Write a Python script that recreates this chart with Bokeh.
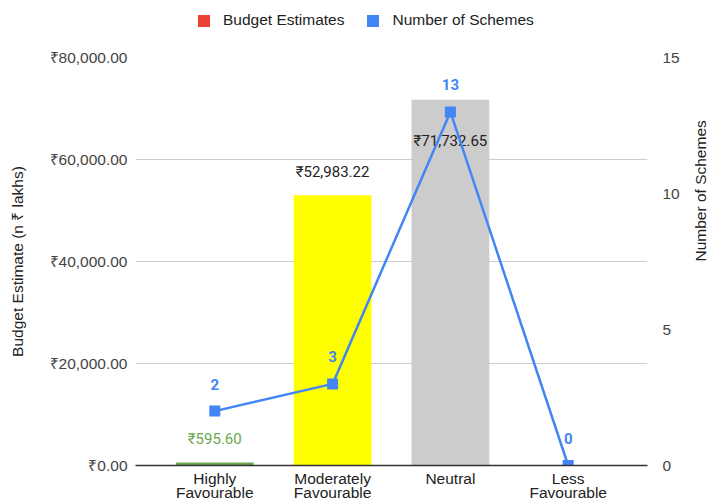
import math
from bokeh.plotting import figure
from bokeh.layouts import column
from bokeh.models import (ColumnDataSource, Range1d, LinearAxis,
                          FixedTicker, Legend, LegendItem)
from bokeh.core.properties import value
from bokeh.embed import file_html
from bokeh.resources import INLINE

# ---- data ----
categories = ["Highly Favourable", "Moderately Favourable", "Neutral", "Less Favourable"]
budget = [595.60, 52983.22, 71732.65, 0.0]
schemes = [2, 3, 13, 0]
bar_colors = ["#6AA84F", "#FFFF00", "#CCCCCC", "#CCCCCC"]
budget_ticks = [0, 20000, 40000, 60000, 80000]
scheme_ticks = [0, 5, 10, 15]
series_names = ["Budget Estimates", "Number of Schemes"]

# ---- styles ----
bar_label_colors = ["#6AA84F", "#222222", "#222222", "#222222"]
bar_label_dy = [-23, -23, 41, 0]
BLUE = "#4285F4"
RED = "#EA4335"
AXFONT = "Liberation Sans"
FS = "15.5px"
PAD = 0.173  # category padding on each side of the x range

# category slots on a numeric scale (slot i is centred on i + 0.5)
xs = [i + 0.5 for i in range(len(categories))]
line1 = {x: c.split(" ")[0] for x, c in zip(xs, categories)}
line2 = {x: (c.split(" ", 1)[1] if " " in c else "") for x, c in zip(xs, categories)}

src = ColumnDataSource(dict(x=xs, cat=categories, budget=budget, color=bar_colors))
lsrc = ColumnDataSource(dict(x=xs, n=schemes, text=[str(v) for v in schemes]))
xrange_ = Range1d(-PAD, len(categories) + PAD)

# ================= legend strip =================
lg = figure(width=720, height=40, x_range=xrange_, y_range=Range1d(0, 1),
            output_backend="svg", toolbar_location=None, min_border=0)
lg.outline_line_color = None
lg.axis.visible = False
lg.grid.grid_line_color = None
r1 = lg.vbar(x="x", top="budget", width=0.5, fill_color=RED, line_color=None,
             source=src, visible=False)
r2 = lg.vbar(x="x", top="n", width=0.5, fill_color=BLUE, line_color=None,
             source=lsrc, visible=False)
legend = Legend(items=[LegendItem(label=series_names[0], renderers=[r1]),
                       LegendItem(label=series_names[1], renderers=[r2])],
                orientation="horizontal", location=(61, 11),
                padding=0, margin=0, spacing=21, label_standoff=12,
                glyph_width=15, glyph_height=15, label_height=18,
                border_line_color=None, background_fill_alpha=0,
                inactive_fill_alpha=0,
                label_text_font=AXFONT, label_text_font_size=FS,
                label_text_color="#222222")
lg.add_layout(legend)

# ================= main chart =================
p = figure(width=720, height=464, x_range=xrange_,
           y_range=Range1d(0, 80000),
           output_backend="svg", toolbar_location=None,
           min_border_left=135, min_border_right=70,
           min_border_top=17, min_border_bottom=39)
p.outline_line_color = None
p.extra_y_ranges = {"sch": Range1d(0, 15)}

# grid
p.xgrid.grid_line_color = None
p.ygrid.ticker = FixedTicker(ticks=budget_ticks)
p.ygrid.grid_line_color = "#CCCCCC"

# left axis
ya = p.yaxis[0]
ya.ticker = FixedTicker(ticks=budget_ticks)
ya.major_label_overrides = {v: f"₹{v:,.2f}" for v in budget_ticks}
ya.axis_line_color = None
ya.major_tick_line_color = None
ya.minor_tick_line_color = None
ya.major_tick_in = 0
ya.major_tick_out = 0
ya.major_label_standoff = 8
ya.major_label_text_font = AXFONT
ya.major_label_text_font_size = FS
ya.major_label_text_color = "#444444"
ya.axis_label = "Budget Estimate (n ₹ lakhs)"
ya.axis_label_text_font = AXFONT
ya.axis_label_text_font_style = "normal"
ya.axis_label_text_font_size = FS
ya.axis_label_text_color = "#222222"
ya.axis_label_standoff = 21

# right axis
ra = LinearAxis(y_range_name="sch", ticker=FixedTicker(ticks=scheme_ticks),
                axis_label="Number of Schemes")
ra.axis_line_color = None
ra.major_tick_line_color = None
ra.minor_tick_line_color = None
ra.major_tick_in = 0
ra.major_tick_out = 0
ra.major_label_standoff = 15
ra.major_label_text_font = AXFONT
ra.major_label_text_font_size = FS
ra.major_label_text_color = "#444444"
ra.axis_label_text_font = AXFONT
ra.axis_label_text_font_style = "normal"
ra.axis_label_text_font_size = FS
ra.axis_label_text_color = "#222222"
ra.axis_label_standoff = 18
if "axis_label_orientation" in ra.properties():
    ra.axis_label_orientation = math.pi / 2
p.add_layout(ra, "right")

# x axis: first word on the main axis, the rest on a second axis below
def _styled(ax):
    ax.ticker = FixedTicker(ticks=xs)
    ax.major_tick_line_color = None
    ax.minor_tick_line_color = None
    ax.major_tick_in = 0
    ax.major_tick_out = 0
    ax.major_label_text_font = AXFONT
    ax.major_label_text_font_size = FS
    ax.major_label_text_color = "#222222"

xa = p.xaxis[0]
_styled(xa)
xa.axis_line_color = "#333333"
xa.axis_line_width = 1.5
xa.major_label_standoff = 4
xa.major_label_overrides = line1

xa2 = LinearAxis()
_styled(xa2)
xa2.axis_line_color = None
xa2.major_label_standoff = -6
xa2.major_label_overrides = line2
p.add_layout(xa2, "below")

# bars
p.vbar(x="x", top="budget", width=0.66, fill_color="color", line_color=None, source=src)

# bar labels (only for non-zero bars)
keep = [i for i, b in enumerate(budget) if b > 0]
lab_src = ColumnDataSource(dict(
    x=[xs[i] for i in keep],
    y=[budget[i] for i in keep],
    text=[f"₹{budget[i]:,.2f}" for i in keep],
    color=[bar_label_colors[i] for i in keep],
    dy=[bar_label_dy[i] for i in keep],
))
p.text(x="x", y="y", text="text", text_color="color", y_offset="dy",
       text_align="center", text_baseline="middle",
       text_font=value("Roboto"), text_font_size="15px", source=lab_src)

# line series
p.line(x="x", y="n", y_range_name="sch", line_color=BLUE, line_width=2.5, source=lsrc)
p.scatter(x="x", y="n", y_range_name="sch", marker="square", size=11,
          fill_color=BLUE, line_color=None, source=lsrc)
p.text(x="x", y="n", text="text", y_range_name="sch", y_offset=-27,
       text_align="center", text_baseline="middle", text_color=BLUE,
       text_font=value("Roboto"), text_font_style="bold", text_font_size="15px",
       source=lsrc)

layout = column(lg, p, spacing=0)
open("out.html", "w").write(file_html(layout, INLINE))
